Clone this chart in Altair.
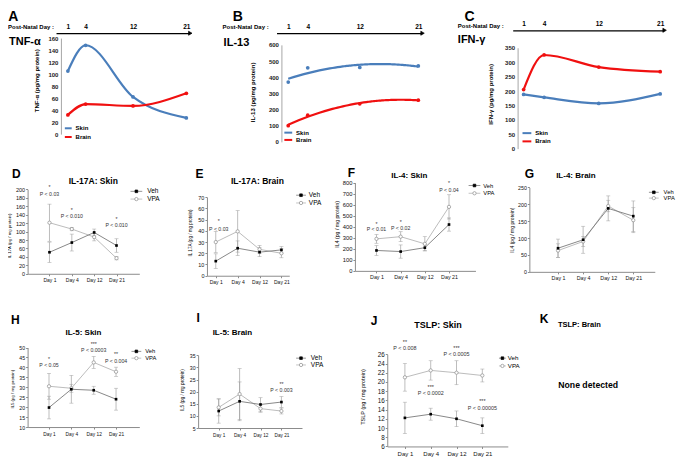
import altair as alt
import pandas as pd

FONT = "Liberation Sans"
W, H = 669, 449


def X(x):
    return round((x - 3) * 0.98, 2)


def Y(y):
    return round((y - 2) * 0.97, 2)


BLUE = "#4a7ebb"
RED = "#f01010"
VEH_LINE = "#7a7a7a"
VPA_LINE = "#b4b4b4"
ERR = "#a0a0a0"
AX = "#8c8c8c"

# ---------------- top row data ----------------
top_days = [1, 4, 12, 21]
tnf_skin = [105, 148, 62, 27]
tnf_brain = [32, 50, 47, 68]
il13_skin = [370, 458, 460, 470]
il13_brain = [100, 165, 235, 258]
ifn_skin = [188, 178, 157, 190]
ifn_brain = [205, 325, 283, 267]

# ---------------- lower panels data ----------------
days = ["Day 1", "Day 4", "Day 12", "Day 21"]
il17_skin_veh = [51, 74, 98, 67]
il17_skin_veh_sd = [24, 20, 8, 16]
il17_skin_vpa = [121, 106, 87, 37]
il17_skin_vpa_sd = [44, 4, 9, 4]
il17_brain_veh = [13, 24.5, 21, 23]
il17_brain_veh_sd = [6.5, 6.5, 4, 3]
il17_brain_vpa = [30, 39.5, 23.5, 20]
il17_brain_vpa_sd = [9.5, 18.5, 3.5, 4]
il4_skin_veh = [185, 175, 210, 420]
il4_skin_veh_sd = [45, 60, 25, 60]
il4_skin_vpa = [290, 310, 245, 580]
il4_skin_vpa_sd = [40, 45, 65, 110]
il4_brain_veh = [70, 95, 188, 165]
il4_brain_veh_sd = [27, 40, 37, 45]
il4_brain_vpa = [63, 90, 195, 153]
il4_brain_vpa_sd = [20, 15, 17, 37]
il5_skin_veh = [19.8, 29, 28.5, 24]
il5_skin_veh_sd = [5.7, 7, 2, 5.5]
il5_skin_vpa = [30.5, 29.5, 42.5, 37.8]
il5_skin_vpa_sd = [6.5, 2, 3, 2.3]
il5_brain_veh = [12, 16, 14.7, 15.7]
il5_brain_veh_sd = [5, 8, 2.8, 2.3]
il5_brain_vpa = [13.5, 19, 13, 12]
il5_brain_vpa_sd = [3.5, 10.5, 1.5, 1.2]
tslp_skin_veh = [12.2, 13, 12, 10.5]
tslp_skin_veh_sd = [3.4, 1.3, 1.7, 1.7]
tslp_skin_vpa = [21, 22.5, 22, 21.4]
tslp_skin_vpa_sd = [3, 2.1, 2.6, 1.4]

# significance notes: (day, value, text)
il17_skin_notes = [("Day 1", 206, "*"), ("Day 1", 190, "P < 0.03"), ("Day 4", 152, "*"),
                   ("Day 4", 136, "P < 0.010"), ("Day 21", 129, "*"), ("Day 21", 115, "P < 0.010")]
il17_brain_notes = [("Day 1", 49, "*"), ("Day 1", 42, "P < 0.03")]
il4_skin_notes = [("Day 1", 428, "*"), ("Day 1", 378, "P < 0.01"), ("Day 4", 446, "*"),
                  ("Day 4", 387, "P < 0.02"), ("Day 21", 795, "*"), ("Day 21", 730, "P < 0.04")]
il5_skin_notes = [("Day 1", 44.3, "*"), ("Day 1", 41.2, "P < 0.05"), ("Day 12", 51.6, "***"),
                  ("Day 12", 48.5, "P < 0.0003"), ("Day 21", 46.6, "**"), ("Day 21", 43.2, "P < 0.004")]
il5_brain_notes = [("Day 21", 23.2, "**"), ("Day 21", 20.6, "P < 0.003")]
tslp_skin_notes = [("Day 1", 28.7, "**"), ("Day 1", 27.3, "P < 0.008"), ("Day 12", 27.3, "***"),
                   ("Day 12", 26.0, "P < 0.0005"), ("Day 4", 18.9, "***"), ("Day 4", 17.6, "P < 0.0002"),
                   ("Day 21", 15.8, "***"), ("Day 21", 14.4, "P < 0.00005")]

ONE = alt.Data(values=[{"k": 0}])


def txt(s, x, y, size, bold=False, align="center", angle=None, color="#000", baseline="middle"):
    props = dict(text=s, font=FONT, fontSize=size, fontWeight="bold" if bold else "normal",
                 align=align, baseline=baseline, color=color)
    if angle is not None:
        props["angle"] = angle
    return alt.Chart(ONE).mark_text(**props).encode(x=alt.value(X(x)), y=alt.value(Y(y)))


def seg(x1, x2, y, color, width):
    return alt.Chart(ONE).mark_rule(color=color, strokeWidth=width).encode(
        x=alt.value(X(x1)), x2=alt.value(X(x2)), y=alt.value(Y(y)))


def glyph(x, y, shape, size, fill, stroke, sw=0.7):
    return alt.Chart(ONE).mark_point(shape=shape, size=size, filled=True, fill=fill, stroke=stroke,
                                     strokeWidth=sw, opacity=1).encode(x=alt.value(X(x)), y=alt.value(Y(y)))


def top_panel(skin, brain, ymax, ystep, ybot, ytop, yaxis_x, a0, a1, ay, d0, fit=False):
    df = pd.DataFrame({"day": top_days * 2, "value": skin + brain,
                       "tissue": ["Skin"] * 4 + ["Brain"] * 4})
    xs = alt.Scale(domain=[d0, 21.5], range=[X(a0), X(a1)], nice=False, zero=False)
    ys = alt.Scale(domain=[0, ymax], range=[Y(ybot), Y(ytop)], nice=False, zero=False)
    xax = alt.Axis(orient="top", offset=-Y(ay), values=top_days, title=None, ticks=False, grid=False,
                   domainColor="#000", domainWidth=1.2, labelFont=FONT, labelFontSize=6.5,
                   labelFontWeight="bold", labelColor="#000", labelPadding=4, labelFlush=False,
                   labelAngle=0, labelOverlap=False)
    yax = alt.Axis(orient="left", offset=-X(yaxis_x), values=list(range(0, ymax + 1, ystep)), title=None,
                   ticks=False, grid=False, domainColor="#a6a6a6", labelFont=FONT, labelFontSize=6,
                   labelFontWeight="bold", labelColor="#222", labelPadding=3, labelFlush=False,
                   labelOverlap=False)
    layers = []
    for tissue, col in (("Skin", BLUE), ("Brain", RED)):
        base = alt.Chart(df).transform_filter(alt.datum.tissue == tissue)
        if fit:
            line = base.transform_regression("day", "value", method="poly", order=2).mark_line(
                color=col, strokeWidth=2.2)
        else:
            line = base.mark_line(color=col, strokeWidth=2.2, interpolate="monotone")
        pts = base.mark_circle(color=col, size=14, opacity=1)
        for m in (line, pts):
            layers.append(m.encode(x=alt.X("day:Q", scale=xs, axis=xax),
                                   y=alt.Y("value:Q", scale=ys, axis=yax)))
    return alt.layer(*layers)


def low_panel(veh, veh_sd, vpa, vpa_sd, ymin, ymax, ystep, ybot, ytop, ax0, ax1, pfirst, plast, notes,
              tick_fs=5.5, day_fs=5, note_fs=5.2, note_dx=0):
    df = pd.DataFrame({"day": days * 2, "group": ["Veh"] * 4 + ["VPA"] * 4,
                       "value": veh + vpa, "sd": veh_sd + vpa_sd})
    df["lo"] = df["value"] - df["sd"]
    df["hi"] = df["value"] + df["sd"]
    r0, r1, f, l = X(ax0), X(ax1), X(pfirst), X(plast)
    step = (l - f) / 3
    outer = (r1 - r0) - (l - f)
    xs = alt.Scale(type="point", domain=days, range=[r0, r1], padding=round(outer / (2 * step), 4),
                   align=round((f - r0) / outer, 4))
    ys = alt.Scale(domain=[ymin, ymax], range=[Y(ybot), Y(ytop)], nice=False, zero=False)
    n = int(round((ymax - ymin) / ystep))
    yt = [ymin + i * ystep for i in range(n + 1)]
    xax = alt.Axis(orient="bottom", offset=round(Y(ybot) - H, 2), title=None, grid=False, domainColor=AX,
                   tickColor=AX, tickSize=2, labelFont=FONT, labelFontSize=day_fs, labelColor="#111",
                   labelPadding=2, labelAngle=0, labelOverlap=False)
    yax = alt.Axis(orient="left", offset=-X(ax0), values=yt, title=None, grid=False, domainColor=AX,
                   tickColor=AX, tickSize=2, labelFont=FONT, labelFontSize=tick_fs, labelColor="#111",
                   labelPadding=1, labelFlush=False, labelOverlap=False)

    def xe():
        return alt.X("day:N", scale=xs, axis=xax, sort=days)

    def ye(fld):
        return alt.Y(fld + ":Q", scale=ys, axis=yax)

    base = alt.Chart(df)
    veh_b = base.transform_filter(alt.datum.group == "Veh")
    vpa_b = base.transform_filter(alt.datum.group == "VPA")
    layers = [
        base.mark_rule(color=ERR, strokeWidth=0.7).encode(x=xe(), y=ye("lo"), y2="hi:Q"),
        base.mark_tick(color=ERR, size=4, thickness=0.7).encode(x=xe(), y=ye("lo")),
        base.mark_tick(color=ERR, size=4, thickness=0.7).encode(x=xe(), y=ye("hi")),
        vpa_b.mark_line(color=VPA_LINE, strokeWidth=0.9).encode(x=xe(), y=ye("value")),
        veh_b.mark_line(color=VEH_LINE, strokeWidth=0.9).encode(x=xe(), y=ye("value")),
        vpa_b.mark_point(shape="circle", filled=True, fill="#fff", stroke="#8c8c8c", strokeWidth=0.7,
                         size=11, opacity=1).encode(x=xe(), y=ye("value")),
        veh_b.mark_point(shape="square", filled=True, color="#000", size=7, opacity=1).encode(
            x=xe(), y=ye("value")),
    ]
    for d, v, s in notes:
        nd = pd.DataFrame({"day": [d], "v": [v]})
        layers.append(alt.Chart(nd).mark_text(text=s, font=FONT, fontSize=note_fs, color="#333",
                                              baseline="middle", dx=note_dx).encode(x=xe(), y=ye("v")))
    return alt.layer(*layers)


def legend(l0, l1, y_veh, y_vpa, tx, fs):
    m = (l0 + l1) / 2
    return [seg(l0, l1, y_veh, VEH_LINE, 0.8), glyph(m, y_veh, "square", 7, "#000", "#000"),
            txt("Veh", tx, y_veh, fs, align="left"),
            seg(l0, l1, y_vpa, VPA_LINE, 0.8), glyph(m, y_vpa, "circle", 11, "#fff", "#8c8c8c"),
            txt("VPA", tx, y_vpa, fs, align="left")]


panels = [
    top_panel(tnf_skin, tnf_brain, 160, 20, 132, 33, 57, 52, 188, 28, -1.0),
    top_panel(il13_skin, il13_brain, 600, 100, 140, 40, 282, 277, 425, 28, -0.8, fit=True),
    top_panel(ifn_skin, ifn_brain, 350, 50, 147, 43, 523, 518, 672, 25, -0.6),
    low_panel(il17_skin_veh, il17_skin_veh_sd, il17_skin_vpa, il17_skin_vpa_sd, 0, 200, 20,
              276, 189, 23, 137, 46, 113, il17_skin_notes),
    low_panel(il17_brain_veh, il17_brain_veh_sd, il17_brain_vpa, il17_brain_vpa_sd, 0, 70, 10,
              278, 197, 206, 290, 215, 282, il17_brain_notes, note_dx=3),
    low_panel(il4_skin_veh, il4_skin_veh_sd, il4_skin_vpa, il4_skin_vpa_sd, 0, 800, 100,
              273, 182, 357, 480, 379, 453, il4_skin_notes, tick_fs=5.8, day_fs=5.3),
    low_panel(il4_brain_veh, il4_brain_veh_sd, il4_brain_vpa, il4_brain_vpa_sd, 0, 250, 50,
              274, 187, 535, 663, 567, 639, [], tick_fs=5.3, day_fs=5.3),
    low_panel(il5_skin_veh, il5_skin_veh_sd, il5_skin_vpa, il5_skin_vpa_sd, 10, 50, 5,
              434, 352, 23, 137, 46, 112, il5_skin_notes, tick_fs=5.2, day_fs=4.8),
    low_panel(il5_brain_veh, il5_brain_veh_sd, il5_brain_vpa, il5_brain_vpa_sd, 5, 35, 5,
              435, 360, 197, 303, 218, 282, il5_brain_notes, tick_fs=5.2, day_fs=4.7),
    low_panel(tslp_skin_veh, tslp_skin_veh_sd, tslp_skin_vpa, tslp_skin_vpa_sd, 6, 26, 2,
              454, 359, 390, 513, 408, 487, tslp_skin_notes, tick_fs=6.3, day_fs=6, note_fs=5.4),
]

decor = [
    # top row
    txt("A", 8.5, 4, 14, True, baseline="top"), txt("B", 237.5, 4, 14, True, baseline="top"),
    txt("C", 474, 4, 14, True, baseline="top"),
    txt("Post-Natal Day :", 3, 21.5, 6, True, align="left"),
    txt("Post-Natal Day :", 222, 21.5, 6, True, align="left"),
    txt("Post-Natal Day :", 462, 20.5, 6, True, align="left"),
    glyph(189, 28, "triangle-right", 16, "#000", "#000"),
    glyph(426, 28, "triangle-right", 16, "#000", "#000"),
    glyph(673, 25, "triangle-right", 16, "#000", "#000"),
    txt("TNF-α", 4, 37, 11, True, align="left"),
    txt("IL-13", 223, 38, 11, True, align="left"),
    txt("IFN-γ", 462, 35, 11, True, align="left"),
    txt("TNF-α (pg/mg protein)", 33, 77, 6, True, angle=270),
    txt("IL-13 (pg/mg protein)", 253, 89, 6, True, angle=270),
    txt("IFN-γ (pg/mg protein)", 496, 91, 6, True, angle=270),
    seg(61, 68, 126, BLUE, 2), seg(61, 68, 135, RED, 2),
    txt("Skin", 72, 126, 6, True, align="left"), txt("Brain", 72, 135, 6, True, align="left"),
    seg(285, 293, 130.5, BLUE, 2), seg(285, 293, 138, RED, 2),
    txt("Skin", 297, 130.5, 6, True, align="left"), txt("Brain", 297, 138, 6, True, align="left"),
    seg(528, 537, 131, BLUE, 2), seg(528, 537, 139.5, RED, 2),
    txt("Skin", 541, 131, 6, True, align="left"), txt("Brain", 541, 139.5, 6, True, align="left"),
    # lower letters
    txt("D", 11.5, 173, 12, True), txt("E", 198.5, 173, 12, True), txt("F", 353.5, 172, 12, True),
    txt("G", 535, 173, 12, True), txt("H", 10.5, 324, 12, True), txt("I", 197, 322, 12, True),
    txt("J", 376.5, 325, 12, True), txt("K", 550, 323, 12, True),
    # panel titles
    txt("IL-17A: Skin", 90, 180, 8.5, True), txt("IL-17A: Brain", 257.5, 180, 8.5, True),
    txt("IL-4: Skin", 412.5, 175, 8, True), txt("IL-4: Brain", 582.5, 175, 8, True),
    txt("IL-5: Skin", 80, 337, 8, True), txt("IL-5: Brain", 232, 337, 8, True),
    txt("TSLP: Skin", 441.7, 329, 9, True), txt("TSLP: Brain", 586, 329, 7.5, True),
    txt("None detected", 595, 391, 8.7, True),
    # y titles
    txt("IL 17A (pg / mg protein)", 5, 237, 4.3, angle=270),
    txt("IL 17A (pg / mg protein)", 190, 234, 4.5, angle=270),
    txt("IL4 (pg / mg protein)", 339, 225, 5.2, angle=270),
    txt("IL4 (pg / mg protein)", 517, 231, 5, angle=270),
    txt("IL5 (pg / mg protein)", 8, 395, 4.3, angle=270),
    txt("IL5 (pg / mg protein)", 182, 396, 4.7, angle=270),
    txt("TSLP (pg / mg protein)", 365, 403, 5.5, angle=270),
]
decor += legend(128, 140, 191, 199, 145, 6.5)
decor += legend(297, 307, 195, 203, 310, 6.5)
decor += legend(473, 485, 185, 193, 488, 5.8)
decor += legend(657, 667, 192, 198, 672, 5.8)
decor += legend(129, 139, 356, 363, 143, 5.8)
decor += legend(297, 307, 363, 370, 312, 6.5)
decor += legend(504, 511, 363, 371, 513, 6.2)

chart = (
    alt.layer(*panels, *decor)
    .resolve_scale(x="independent", y="independent")
    .properties(width=W, height=H, padding=0, autosize=alt.AutoSizeParams(type="none"))
    .configure_view(stroke="transparent")
)

chart.save("out.html", embed_options={"renderer": "svg", "actions": False})
